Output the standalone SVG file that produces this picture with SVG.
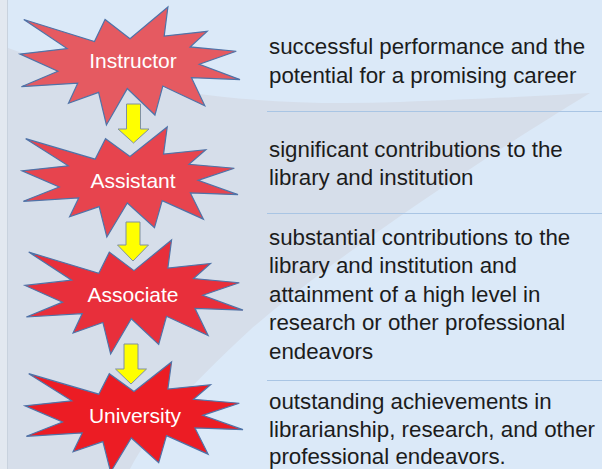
<svg xmlns="http://www.w3.org/2000/svg" xmlns:xlink="http://www.w3.org/1999/xlink" width="602" height="469" viewBox="0 0 602 469">
<style>
.star{stroke:#4f73a8;stroke-width:1.2;vector-effect:non-scaling-stroke}
.lbl{font-family:"Liberation Sans",Arial,sans-serif;font-size:21px;fill:#ffffff;text-anchor:middle}
.desc{font-family:"Liberation Sans",Arial,sans-serif;font-size:22.3px;fill:#1c1c1c}
.sep{stroke:#a9c5e4;stroke-width:1}
.arrow{fill:#ffff00;stroke:#8090a0;stroke-width:1}
</style>
<defs>
<path id="star" class="star" d="M500,268.5 L386.7,106.3 L338.5,292.6 L17.1,106.3 L214.2,352.6 L0,398.8 L172.3,545.1 L6.25,675.3 L262.4,645.2 L220.5,815.6 L357.2,723.5 L392.8,1000 L487.6,691.4 L613.3,915.6 L649.1,669.3 L840,837.7 L779.5,599.2 L1000,615.3 L815.1,485 L983,375 L773.2,338.7 L850.9,206.3 L655.3,246.5 L672.3,0 Z"/>
</defs>
<g id="background">
<rect x="0" y="0" width="602" height="469" fill="#dbe9f8"/>
<path d="M0,45 C120,90 250,108 400,102 C480,99 540,96 590,93 C480,160 330,260 250,330 C190,385 150,430 130,469 L0,469 Z" fill="#d6deea"/>
<rect x="0" y="0" width="7" height="469" fill="#e2e8f0"/>
<line x1="7.5" y1="0" x2="7.5" y2="469" stroke="#c8d2de" stroke-width="1"/>
</g>
<g id="separators">
<line class="sep" x1="267" y1="111.5" x2="602" y2="111.5"/>
<line class="sep" x1="267" y1="213.5" x2="602" y2="213.5"/>
<line class="sep" x1="267" y1="380.5" x2="602" y2="380.5"/>
</g>
<g id="node-instructor">
<use xlink:href="#star" transform="translate(20,7) scale(0.220,0.118)" fill="#e55a61"/>
<text class="lbl" x="133" y="68">Instructor</text>
</g>
<g id="node-assistant">
<use xlink:href="#star" transform="translate(22,127) scale(0.216,0.110)" fill="#e7444e"/>
<text class="lbl" x="133" y="188">Assistant</text>
</g>
<g id="node-associate">
<use xlink:href="#star" transform="translate(25,240) scale(0.218,0.114)" fill="#e82f3b"/>
<text class="lbl" x="133" y="302">Associate</text>
</g>
<g id="node-university">
<use xlink:href="#star" transform="translate(25,362) scale(0.218,0.110)" fill="#ec1c24"/>
<text class="lbl" x="135" y="423">University</text>
</g>
<g id="connectors">
<polygon class="arrow" points="126.5,104 140.5,104 140.5,129 149,129 133.5,143 118,129 126.5,129"/>
<polygon class="arrow" points="126,222 140,222 140,245 148.5,245 133,261 117.5,245 126,245"/>
<polygon class="arrow" points="124,344 138,344 138,369 146.5,369 131,384 115.5,369 124,369"/>
</g>
<g id="desc-instructor">
<text class="desc" x="269" y="54">successful performance and the</text>
<text class="desc" x="269" y="82.5">potential for a promising career</text>
</g>
<g id="desc-assistant">
<text class="desc" x="269" y="157">significant contributions to the</text>
<text class="desc" x="269" y="185">library and institution</text>
</g>
<g id="desc-associate">
<text class="desc" x="269" y="245">substantial contributions to the</text>
<text class="desc" x="269" y="273.4">library and institution and</text>
<text class="desc" x="269" y="301.8">attainment of a high level in</text>
<text class="desc" x="269" y="330.2">research or other professional</text>
<text class="desc" x="269" y="358.6">endeavors</text>
</g>
<g id="desc-university">
<text class="desc" x="269" y="409">outstanding achievements in</text>
<text class="desc" x="269" y="437">librarianship, research, and other</text>
<text class="desc" x="269" y="464">professional endeavors.</text>
</g>
</svg>
